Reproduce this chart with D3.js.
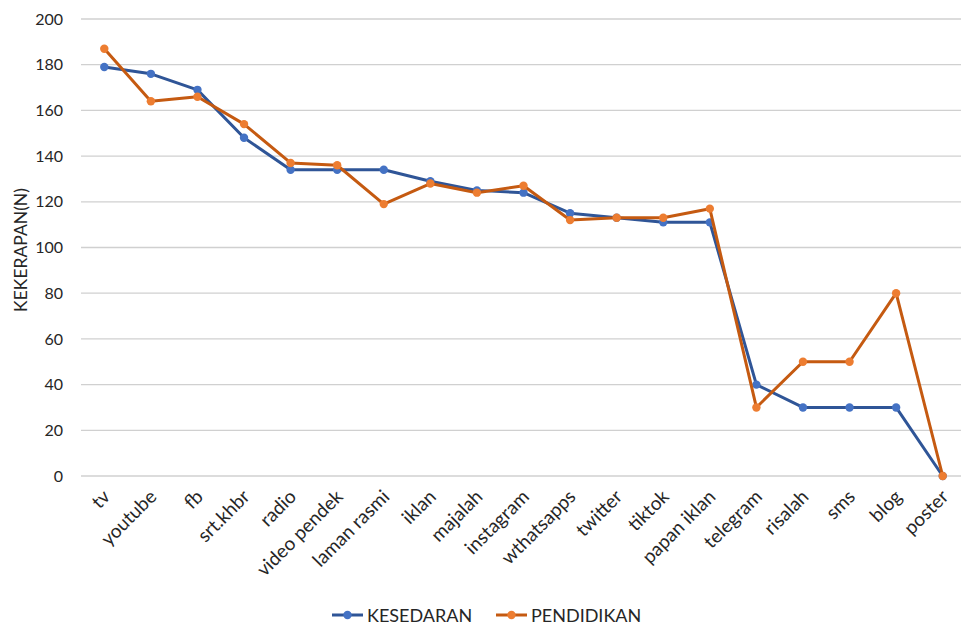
<!DOCTYPE html>
<html>
<head>
<meta charset="utf-8">
<script src="https://cdn.jsdelivr.net/npm/d3@7"></script>
<style>
  body { margin: 0; background: #fff; }
  svg { display: block; font-family: Lato, "Open Sans", sans-serif; }
</style>
</head>
<body>
<svg id="chart"></svg>
<script>
var categories = ["tv", "youtube", "fb", "srt.khbr", "radio", "video pendek", "laman rasmi", "iklan",
    "majalah", "instagram", "wthatsapps", "twitter", "tiktok", "papan iklan", "telegram",
    "risalah", "sms", "blog", "poster"]
var kesedaran = [179, 176, 169, 148, 134, 134, 134, 129, 125, 124, 115, 113, 111, 111, 40, 30, 30, 30, 0]
var pendidikan = [187, 164, 166, 154, 137, 136, 119, 128, 124, 127, 112, 113, 113, 117, 30, 50, 50, 80, 0]
var yTicks = [0, 20, 40, 60, 80, 100, 120, 140, 160, 180, 200]

var series = [
    { name: "KESEDARAN", values: kesedaran, line: "#2F5597", dot: "#4472C4" },
    { name: "PENDIDIKAN", values: pendidikan, line: "#C55A11", dot: "#ED7D31" }
]

var dimensions = { width: 961, height: 628 }
var plot = { left: 81, right: 966, top: 19, bottom: 476 }

var svg = d3.select("#chart")
    .attr("width", dimensions.width)
    .attr("height", dimensions.height)

var xScale = d3.scalePoint()
    .domain(categories)
    .range([plot.left, plot.right])
    .padding(0.5)

var yScale = d3.scaleLinear()
    .domain([0, 200])
    .range([plot.bottom, plot.top])

// gridlines
svg.append("g")
    .selectAll("line")
    .data(yTicks)
    .enter()
    .append("line")
    .attr("x1", plot.left)
    .attr("x2", plot.right)
    .attr("y1", function (d) { return yScale(d) })
    .attr("y2", function (d) { return yScale(d) })
    .attr("stroke", "#d0d0d0")
    .attr("stroke-width", 1.3)

// y axis labels
var yAxis = d3.axisLeft(yScale).tickValues(yTicks).tickSize(0).tickPadding(18)
svg.append("g")
    .attr("transform", "translate(" + plot.left + ",0)")
    .call(yAxis)
    .call(function (g) { g.select(".domain").remove() })
    .selectAll("text")
    .style("font-size", "16px")
    .style("font-family", "Lato, 'Open Sans', sans-serif")
    .attr("fill", "#262626")

// x axis labels, rotated and anchored at their end
var xAxis = d3.axisBottom(xScale).tickSize(0)
svg.append("g")
    .attr("transform", "translate(0," + plot.bottom + ")")
    .call(xAxis)
    .call(function (g) { g.select(".domain").remove() })
    .selectAll("text")
    .style("font-size", "19px")
    .style("font-family", "Lato, 'Open Sans', sans-serif")
    .attr("fill", "#262626")
    .style("text-anchor", "end")
    .attr("x", -11)
    .attr("y", 20)
    .attr("dy", 0)
    .attr("transform", "rotate(-45)")

svg.append("text")
    .attr("transform", "translate(27," + 250 + ") rotate(-90)")
    .attr("text-anchor", "middle")
    .style("font-size", "17.5px")
    .attr("fill", "#262626")
    .text("KEKERAPAN(N)")

var line = d3.line()
    .x(function (d, i) { return xScale(categories[i]) })
    .y(function (d) { return yScale(d) })

series.forEach(function (s) {
    svg.append("path")
        .attr("fill", "none")
        .attr("stroke", s.line)
        .attr("stroke-width", 3)
        .attr("stroke-linejoin", "round")
        .attr("d", line(s.values))

    svg.append("g")
        .selectAll("circle")
        .data(s.values)
        .enter()
        .append("circle")
        .attr("cx", function (d, i) { return xScale(categories[i]) })
        .attr("cy", function (d) { return yScale(d) })
        .attr("r", 4.2)
        .attr("fill", s.dot)
})

// legend
var legendX = [332, 496]
var legend = svg.append("g")
    .selectAll("g")
    .data(series)
    .enter()
    .append("g")
    .attr("transform", function (d, i) { return "translate(" + legendX[i] + ",615)" })

legend.append("line")
    .attr("x1", 0).attr("x2", 31)
    .attr("stroke", function (d) { return d.line })
    .attr("stroke-width", 3)
legend.append("circle")
    .attr("cx", 15.5)
    .attr("r", 4.2)
    .attr("fill", function (d) { return d.dot })
legend.append("text")
    .attr("x", 35)
    .attr("y", 6.5)
    .style("font-size", "18px")
    .attr("fill", "#262626")
    .text(function (d) { return d.name })
</script>
</body>
</html>
